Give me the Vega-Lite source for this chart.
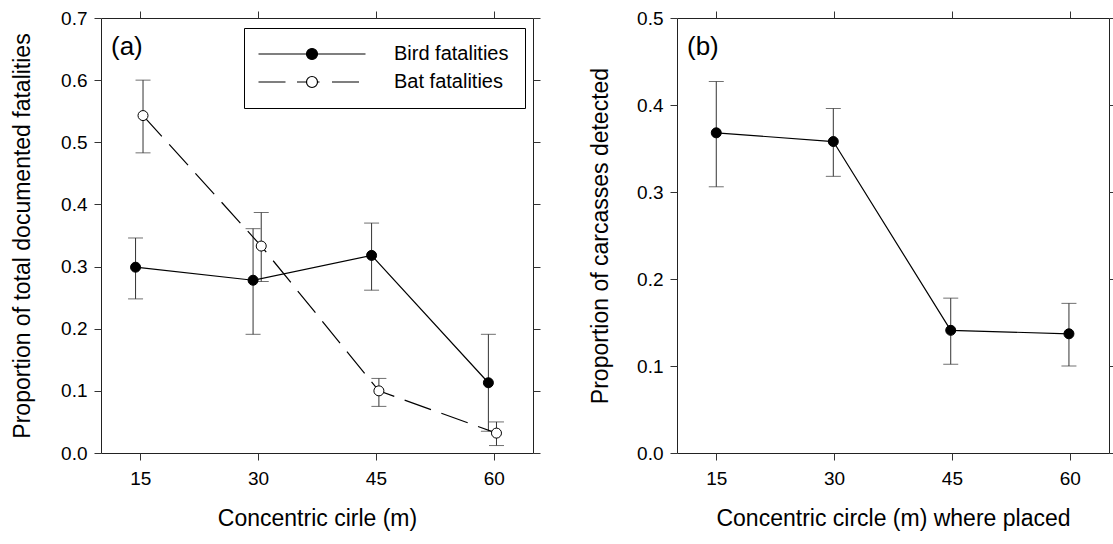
{
  "$schema": "https://vega.github.io/schema/vega-lite/v6.json",
  "padding": {"left": 11, "top": 8, "right": 0, "bottom": 0},
  "background": "white",
  "config": {
    "font": "Liberation Sans",
    "view": {"stroke": "#222", "strokeWidth": 1},
    "axis": {"grid": false, "domain": false, "tickColor": "#333", "tickSize": 7, "labelFontSize": 19, "titleFontSize": 23, "titleFontWeight": "normal", "labelColor": "black", "titleColor": "black", "labelFont": "Liberation Sans", "titleFont": "Liberation Sans", "labelFlush": false, "labelOverlap": false},
    "concat": {"spacing": 48}
  },
  "resolve": {"scale": {"fill": "independent"}, "legend": {"fill": "independent"}},
  "datasets": {
    "fatalities": [
      {"series": "Bird fatalities", "distance": 14.4, "mean": 0.299, "lo": 0.248, "hi": 0.346},
      {"series": "Bird fatalities", "distance": 29.36, "mean": 0.278, "lo": 0.191, "hi": 0.361},
      {"series": "Bird fatalities", "distance": 44.45, "mean": 0.318, "lo": 0.262, "hi": 0.370},
      {"series": "Bird fatalities", "distance": 59.32, "mean": 0.113, "lo": 0.035, "hi": 0.191},
      {"series": "Bat fatalities", "distance": 15.35, "mean": 0.543, "lo": 0.483, "hi": 0.600},
      {"series": "Bat fatalities", "distance": 30.4, "mean": 0.333, "lo": 0.276, "hi": 0.387},
      {"series": "Bat fatalities", "distance": 45.38, "mean": 0.100, "lo": 0.075, "hi": 0.120},
      {"series": "Bat fatalities", "distance": 60.35, "mean": 0.032, "lo": 0.012, "hi": 0.050}
    ],
    "detection": [
      {"distance": 15, "mean": 0.368, "lo": 0.306, "hi": 0.427},
      {"distance": 29.9, "mean": 0.358, "lo": 0.318, "hi": 0.396},
      {"distance": 44.85, "mean": 0.141, "lo": 0.102, "hi": 0.178},
      {"distance": 59.9, "mean": 0.137, "lo": 0.100, "hi": 0.172}
    ]
  },
  "hconcat": [
    {
      "width": 432,
      "height": 435,
      "data": {"name": "fatalities"},
      "title": {"text": "(a)", "anchor": "start", "frame": "group", "fontSize": 26, "fontWeight": "normal", "dx": 10, "dy": 55, "font": "Liberation Sans", "color": "black"},
      "layer": [
        {
          "mark": {"type": "errorbar", "ticks": {"size": 15}, "color": "#333", "thickness": 1},
          "encoding": {
            "x": {"field": "distance", "type": "quantitative", "scale": {"domain": [10, 65], "nice": false, "zero": false}, "axis": {"orient": "bottom", "values": [15, 30, 45, 60], "title": "Concentric cirle (m)", "labelPadding": 9, "titlePadding": 19}},
            "y": {"field": "lo", "type": "quantitative", "scale": {"domain": [0, 0.7], "nice": false}, "axis": {"orient": "left", "values": [0, 0.1, 0.2, 0.3, 0.4, 0.5, 0.6, 0.7], "format": ".1f", "title": "Proportion of total documented fatalities", "labelPadding": 7, "titlePadding": 26}},
            "y2": {"field": "hi"}
          }
        },
        {
          "transform": [{"filter": "datum.series === 'Bird fatalities'"}],
          "mark": {"type": "line", "color": "black", "strokeWidth": 1.2},
          "encoding": {
            "x": {"field": "distance", "type": "quantitative", "scale": {"domain": [10, 65], "nice": false, "zero": false}, "axis": {"orient": "top", "values": [15, 30, 45, 60], "labels": false, "title": null}},
            "y": {"field": "mean", "type": "quantitative", "scale": {"domain": [0, 0.7], "nice": false}, "axis": {"orient": "right", "values": [0, 0.1, 0.2, 0.3, 0.4, 0.5, 0.6, 0.7], "labels": false, "title": null}}
          }
        },
        {
          "transform": [{"filter": "datum.series === 'Bat fatalities'"}],
          "mark": {"type": "line", "color": "black", "strokeWidth": 1.2, "strokeDash": [28, 11]},
          "encoding": {
            "x": {"field": "distance", "type": "quantitative", "scale": {"domain": [10, 65], "nice": false, "zero": false}, "axis": null},
            "y": {"field": "mean", "type": "quantitative", "scale": {"domain": [0, 0.7], "nice": false}, "axis": null}
          }
        },
        {
          "mark": {"type": "point", "shape": "circle", "filled": true, "size": 100, "stroke": "black", "strokeWidth": 1, "opacity": 1},
          "encoding": {
            "x": {"field": "distance", "type": "quantitative", "scale": {"domain": [10, 65], "nice": false, "zero": false}, "axis": null},
            "y": {"field": "mean", "type": "quantitative", "scale": {"domain": [0, 0.7], "nice": false}, "axis": null},
            "fill": {
              "field": "series", "type": "nominal",
              "scale": {"domain": ["Bird fatalities", "Bat fatalities"], "range": ["black", "white"]},
              "legend": {
                "orient": "none", "legendX": 143, "legendY": 10, "title": null, "zindex": 2,
                "strokeColor": "black", "fillColor": "white", "padding": 16, "cornerRadius": 0,
                "labelFontSize": 20, "labelFont": "Liberation Sans", "labelColor": "black", "labelLimit": 300,
                "symbolSize": 100, "symbolOffset": 42, "labelOffset": 72, "rowPadding": 8,
                "symbolStrokeColor": "black", "symbolStrokeWidth": 1.2, "symbolOpacity": 1,
                "encode": {"symbols": {"update": {"shape": {"signal": "datum.value === 'Bird fatalities' ? 'M-10.7,0H10.7M-1.1,0A1.1,1.1,0,1,0,1.1,0A1.1,1.1,0,1,0,-1.1,0Z' : 'M-10.7,0H-5.3M-3,0H-1.1M1.1,0H1.5M4,0H9.4M-1.1,0A1.1,1.1,0,1,0,1.1,0A1.1,1.1,0,1,0,-1.1,0Z'"}}}}
              }
            }
          }
        }
      ],
      "resolve": {"axis": {"x": "independent", "y": "independent"}}
    },
    {
      "width": 432,
      "height": 435,
      "data": {"name": "detection"},
      "title": {"text": "(b)", "anchor": "start", "frame": "group", "fontSize": 26, "fontWeight": "normal", "dx": 10, "dy": 55, "font": "Liberation Sans", "color": "black"},
      "layer": [
        {
          "mark": {"type": "errorbar", "ticks": {"size": 15}, "color": "#333", "thickness": 1},
          "encoding": {
            "x": {"field": "distance", "type": "quantitative", "scale": {"domain": [10, 65], "nice": false, "zero": false}, "axis": {"orient": "bottom", "values": [15, 30, 45, 60], "title": "Concentric circle (m) where placed", "labelPadding": 9, "titlePadding": 19}},
            "y": {"field": "lo", "type": "quantitative", "scale": {"domain": [0, 0.5], "nice": false}, "axis": {"orient": "left", "values": [0, 0.1, 0.2, 0.3, 0.4, 0.5], "format": ".1f", "title": "Proportion of carcasses detected", "labelPadding": 7, "titlePadding": 24}},
            "y2": {"field": "hi"}
          }
        },
        {
          "mark": {"type": "line", "color": "black", "strokeWidth": 1.2},
          "encoding": {
            "x": {"field": "distance", "type": "quantitative", "scale": {"domain": [10, 65], "nice": false, "zero": false}, "axis": {"orient": "top", "values": [15, 30, 45, 60], "labels": false, "title": null}},
            "y": {"field": "mean", "type": "quantitative", "scale": {"domain": [0, 0.5], "nice": false}, "axis": {"orient": "right", "values": [0, 0.1, 0.2, 0.3, 0.4, 0.5], "labels": false, "title": null}}
          }
        },
        {
          "mark": {"type": "circle", "size": 100, "stroke": "black", "strokeWidth": 1, "fill": "black", "opacity": 1},
          "encoding": {
            "x": {"field": "distance", "type": "quantitative", "scale": {"domain": [10, 65], "nice": false, "zero": false}, "axis": null},
            "y": {"field": "mean", "type": "quantitative", "scale": {"domain": [0, 0.5], "nice": false}, "axis": null}
          }
        }
      ],
      "resolve": {"axis": {"x": "independent", "y": "independent"}}
    }
  ]
}
